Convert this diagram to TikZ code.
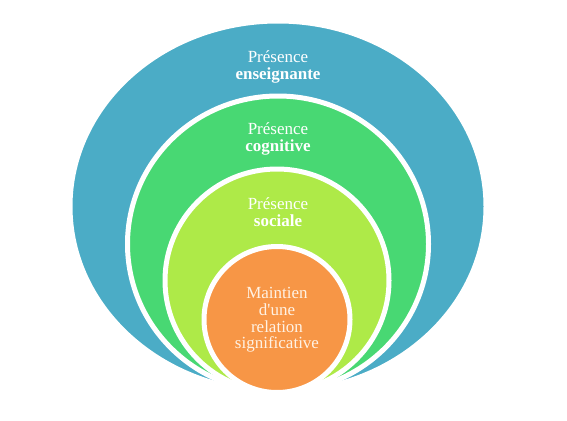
\documentclass[tikz,border=0pt]{standalone}
\usepackage{fontspec}
\setmainfont{Liberation Serif}[Ligatures=TeXOff]
\definecolor{ringblue}{RGB}{75,172,198}
\definecolor{ringgreen}{RGB}{72,216,115}
\definecolor{ringlime}{RGB}{174,234,72}
\definecolor{ringorange}{RGB}{247,150,70}
\definecolor{creamtext}{RGB}{255,242,228}
\tikzset{
  ring/.style={draw=white, line width=5pt},
  lbl/.style={align=center, text=white, font=\fontsize{17}{16.7}\selectfont, inner sep=0pt}
}
\begin{document}
\begin{tikzpicture}[x=1pt,y=-1pt]
\useasboundingbox (0,0) rectangle (567,420);
\filldraw[ring, fill=ringblue] (278,206.5) ellipse [x radius=208, y radius=185.5];
\filldraw[ring, fill=ringgreen] (278,244) ellipse [x radius=150.5, y radius=148];
\filldraw[ring, fill=ringlime] (277,280.5) ellipse [x radius=112, y radius=111.5];
\filldraw[ring, fill=ringorange] (277,319.5) circle [radius=73];
\node[lbl] (ens) at (278,67) {Présence\\\textbf{enseignante}};
\node[lbl] (cog) at (278,139) {Présence\\\textbf{cognitive}};
\node[lbl] (soc) at (278,212) {Présence\\\textbf{sociale}};
\node[lbl, text=creamtext] (rel) at (277,320) {Maintien\\d'une\\relation\\significative};
\end{tikzpicture}
\end{document}
